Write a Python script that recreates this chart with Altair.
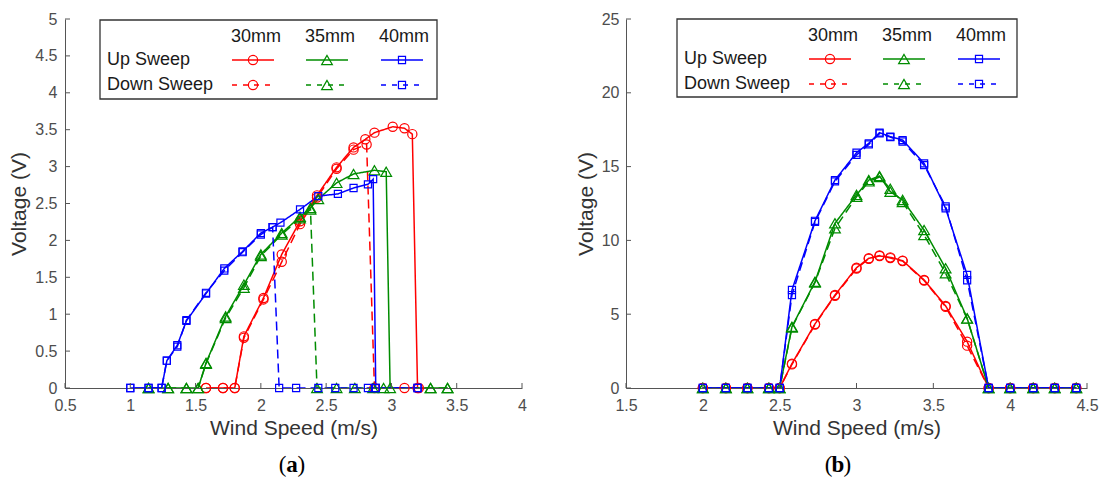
import altair as alt
import pandas as pd

SIZES = ["30mm", "35mm", "40mm"]
COLORS = ["#ff0000", "#008c00", "#0000ff"]
SHAPES = ["circle", "triangle-up", "square"]
SWEEPS = ["Up Sweep", "Down Sweep"]

# ---------------- panel (a) ----------------
a_30_up_x = [1.58, 1.71, 1.80, 1.87, 2.02, 2.16, 2.30, 2.43, 2.58, 2.71, 2.80, 2.87, 3.01, 3.10, 3.16, 3.20]
a_30_up_y = [0, 0, 0, 0.70, 1.22, 1.81, 2.26, 2.61, 2.99, 3.26, 3.37, 3.46, 3.54, 3.52, 3.44, 0]
a_30_dn_x = [3.21, 3.10, 2.87, 2.81, 2.71, 2.58, 2.43, 2.30, 2.16, 2.02, 1.87, 1.80, 1.71, 1.58]
a_30_dn_y = [0, 0, 0, 3.30, 3.23, 2.97, 2.58, 2.22, 1.71, 1.20, 0.68, 0, 0, 0]

a_35_up_x = [1.14, 1.29, 1.43, 1.52, 1.58, 1.73, 1.87, 2.00, 2.16, 2.30, 2.38, 2.44, 2.58, 2.71, 2.87, 2.96, 2.99, 3.30, 3.43]
a_35_up_y = [0, 0, 0, 0, 0.34, 0.97, 1.40, 1.81, 2.10, 2.32, 2.44, 2.56, 2.78, 2.90, 2.95, 2.93, 0, 0, 0]
a_35_dn_x = [3.43, 3.30, 2.94, 2.86, 2.72, 2.58, 2.43, 2.38, 2.30, 2.16, 2.00, 1.87, 1.73, 1.58, 1.52, 1.43, 1.29, 1.14]
a_35_dn_y = [0, 0, 0, 0, 0, 0, 0, 2.42, 2.30, 2.08, 1.79, 1.36, 0.95, 0.33, 0, 0, 0, 0]

a_40_up_x = [1.00, 1.14, 1.24, 1.28, 1.36, 1.43, 1.58, 1.72, 1.86, 2.00, 2.09, 2.15, 2.30, 2.44, 2.59, 2.71, 2.82, 2.86, 2.88, 3.20]
a_40_up_y = [0, 0, 0, 0.37, 0.58, 0.91, 1.28, 1.62, 1.85, 2.10, 2.18, 2.24, 2.42, 2.60, 2.63, 2.71, 2.76, 2.83, 0, 0]
a_40_dn_x = [3.20, 2.88, 2.82, 2.71, 2.57, 2.44, 2.27, 2.14, 2.09, 2.00, 1.86, 1.72, 1.58, 1.43, 1.36, 1.28, 1.24, 1.14, 1.00]
a_40_dn_y = [0, 0, 0, 0, 0, 0, 0, 0, 2.18, 2.08, 1.84, 1.59, 1.29, 0.92, 0.56, 0.37, 0, 0, 0]

a_xticks = [0.5, 1, 1.5, 2, 2.5, 3, 3.5, 4]
a_yticks = [0, 0.5, 1, 1.5, 2, 2.5, 3, 3.5, 4, 4.5, 5]

# ---------------- panel (b) ----------------
b_x = [2.00, 2.15, 2.29, 2.43, 2.50, 2.58, 2.73, 2.86, 3.00, 3.08, 3.15, 3.22, 3.30, 3.44, 3.58, 3.72,
       3.86, 4.00, 4.15, 4.29, 4.43]
b_30_up_y = [0, 0, 0, 0, 0, 1.65, 4.34, 6.30, 8.15, 8.79, 8.94, 8.85, 8.63, 7.32, 5.56, 3.14, 0, 0, 0, 0, 0]
b_30_dn_y = [0, 0, 0, 0, 0, 1.60, 4.30, 6.25, 8.10, 8.75, 8.98, 8.80, 8.60, 7.28, 5.50, 2.87, 0, 0, 0, 0, 0]
b_35_up_y = [0, 0, 0, 0, 0, 4.15, 7.20, 11.16, 13.08, 14.09, 14.36, 13.30, 12.74, 10.70, 8.11, 4.72, 0, 0, 0, 0, 0]
b_35_dn_y = [0, 0, 0, 0, 0, 4.10, 7.15, 10.82, 12.95, 14.00, 14.30, 13.50, 12.60, 10.37, 7.77, 4.70, 0, 0, 0, 0, 0]
b_40_up_y = [0, 0, 0, 0, 0, 6.64, 11.33, 14.09, 15.94, 16.58, 17.30, 17.03, 16.80, 15.22, 12.17, 7.66, 0, 0, 0, 0, 0]
b_40_dn_y = [0, 0, 0, 0, 0, 6.30, 11.25, 14.00, 15.79, 16.50, 17.25, 17.00, 16.70, 15.10, 12.30, 7.30, 0, 0, 0, 0, 0]

b_xticks = [1.5, 2, 2.5, 3, 3.5, 4, 4.5]
b_yticks = [0, 5, 10, 15, 20, 25]


def frame(series):
    rows = []
    for size, sweep, xs, ys in series:
        for i, (x, y) in enumerate(zip(xs, ys)):
            rows.append(dict(size=size, sweep=sweep, key=size + sweep, i=i, ws=x, v=y))
    return pd.DataFrame(rows)


df_a = frame([
    ("30mm", "Up Sweep", a_30_up_x, a_30_up_y),
    ("30mm", "Down Sweep", a_30_dn_x, a_30_dn_y),
    ("35mm", "Up Sweep", a_35_up_x, a_35_up_y),
    ("35mm", "Down Sweep", a_35_dn_x, a_35_dn_y),
    ("40mm", "Up Sweep", a_40_up_x, a_40_up_y),
    ("40mm", "Down Sweep", a_40_dn_x, a_40_dn_y),
])
df_b = frame([
    ("30mm", "Up Sweep", b_x, b_30_up_y),
    ("30mm", "Down Sweep", b_x, b_30_dn_y),
    ("35mm", "Up Sweep", b_x, b_35_up_y),
    ("35mm", "Down Sweep", b_x, b_35_dn_y),
    ("40mm", "Up Sweep", b_x, b_40_up_y),
    ("40mm", "Down Sweep", b_x, b_40_dn_y),
])

LABEL_FONT = "Liberation Sans Narrow, Arial Narrow, Liberation Sans, sans-serif"
TEXT_FONT = "Liberation Sans, Arial, sans-serif"
AXIS_GRAY = "#555555"
MARKER_SIZE = {"30mm": 85, "35mm": 115, "40mm": 50}

color_enc = alt.Color("size:N", scale=alt.Scale(domain=SIZES, range=COLORS), legend=None)
dash_enc = alt.StrokeDash("sweep:N", scale=alt.Scale(domain=SWEEPS, range=[[1, 0], [9, 5]]), legend=None)


def marker_layers(data, x, y):
    out = []
    for s, shp in zip(SIZES, SHAPES):
        out.append(alt.Chart(data).transform_filter(alt.datum.size == s).mark_point(
            filled=False, strokeWidth=1.2, opacity=1, shape=shp, size=MARKER_SIZE[s]
        ).encode(x=x, y=y, color=color_enc))
    return out


def panel(df, xdom, xticks, ydom, yticks, W, H, box, caption_letter, caption_x, ylabpad):
    xaxis = alt.Axis(values=xticks, title="Wind Speed (m/s)", labelExpr="'' + datum.value",
                     labelPadding=9, titlePadding=4, labelFlush=False)
    yaxis = alt.Axis(values=yticks, title="Voltage (V)", labelExpr="'' + datum.value",
                     labelPadding=ylabpad, titlePadding=5, labelFlush=False)
    X = alt.X("ws:Q", scale=alt.Scale(domain=xdom, nice=False, zero=False), axis=xaxis)
    Y = alt.Y("v:Q", scale=alt.Scale(domain=ydom, nice=False), axis=yaxis)

    lines = alt.Chart(df).mark_line(strokeWidth=1.5, clip=True).encode(
        x=X, y=Y, color=color_enc, strokeDash=dash_enc, detail="key:N", order="i:Q")
    pts = marker_layers(df, X, Y)

    xt = alt.Chart(pd.DataFrame({"ws": xticks})).mark_rule(color=AXIS_GRAY, strokeWidth=1).encode(
        x=X, y=alt.value(H), y2=alt.value(H - 5))
    yt = alt.Chart(pd.DataFrame({"v": yticks})).mark_rule(color=AXIS_GRAY, strokeWidth=1).encode(
        y=Y, x=alt.value(0), x2=alt.value(5))

    bx, by, bw, bh = box
    one = pd.DataFrame({"a": [0]})
    frame_box = alt.Chart(one).mark_rect(fill="white", stroke="#333333", strokeWidth=1.3).encode(
        x=alt.value(bx), x2=alt.value(bx + bw), y=alt.value(by), y2=alt.value(by + bh))

    col_c = [156, 230, 304]
    seg = [(132, 174), (206, 248), (281, 323)]
    head_df = pd.DataFrame({"label": SIZES, "px": [bx + c for c in col_c], "py": [by + 17] * 3})
    heads = alt.Chart(head_df).mark_text(font=TEXT_FONT, fontSize=18, color="#1a1a1a",
                                         align="center", baseline="middle").encode(
        x=alt.X("px:Q", scale=None, axis=None), y=alt.Y("py:Q", scale=None, axis=None), text="label:N")
    row_df = pd.DataFrame({"label": SWEEPS, "px": [bx + 7] * 2, "py": [by + 40, by + 65]})
    rows = alt.Chart(row_df).mark_text(font=TEXT_FONT, fontSize=18, color="#1a1a1a",
                                       align="left", baseline="middle").encode(
        x=alt.X("px:Q", scale=None, axis=None), y=alt.Y("py:Q", scale=None, axis=None), text="label:N")

    leg_rows = []
    for k, s in enumerate(SIZES):
        for j, sw in enumerate(SWEEPS):
            leg_rows.append(dict(size=s, sweep=sw, x1=bx + seg[k][0], x2=bx + seg[k][1],
                                 mx=bx + (seg[k][0] + seg[k][1]) / 2, py=by + (40 if j == 0 else 65)))
    leg = pd.DataFrame(leg_rows)
    rule_up = alt.Chart(leg[leg.sweep == "Up Sweep"]).mark_rule(strokeWidth=1.5).encode(
        x=alt.X("x1:Q", scale=None, axis=None), x2="x2:Q",
        y=alt.Y("py:Q", scale=None, axis=None), color=color_enc)
    rule_dn = alt.Chart(leg[leg.sweep == "Down Sweep"]).mark_rule(strokeWidth=1.5, strokeDash=[5, 6]).encode(
        x=alt.X("x1:Q", scale=None, axis=None), x2="x2:Q",
        y=alt.Y("py:Q", scale=None, axis=None), color=color_enc)
    leg_pts = marker_layers(leg, alt.X("mx:Q", scale=None, axis=None), alt.Y("py:Q", scale=None, axis=None))

    cap_y = 446
    cap_font = "Liberation Serif, Times New Roman, serif"
    c1 = alt.Chart(one).mark_text(font=cap_font, fontSize=23, align="right", baseline="middle",
                                  color="black").encode(
        x=alt.value(caption_x - 5.5), y=alt.value(cap_y), text=alt.value("("))
    c2 = alt.Chart(one).mark_text(font=cap_font, fontSize=23, fontWeight="bold", align="center",
                                  baseline="middle", color="black").encode(
        x=alt.value(caption_x), y=alt.value(cap_y), text=alt.value(caption_letter))
    c3 = alt.Chart(one).mark_text(font=cap_font, fontSize=23, align="left", baseline="middle",
                                  color="black").encode(
        x=alt.value(caption_x + 5.5), y=alt.value(cap_y), text=alt.value(")"))

    return alt.layer(lines, *pts, xt, yt, frame_box, heads, rows, rule_up, rule_dn, *leg_pts,
                     c1, c2, c3).properties(width=W, height=H)


left = panel(df_a, [0.5, 4], a_xticks, [0, 5], a_yticks, 457, 369, (35, 1, 337, 79), "a", 227, 8)
right = panel(df_b, [1.5, 4.5], b_xticks, [0, 25], b_yticks, 461, 369, (51, 0, 340, 78), "b", 212, 7)

chart = alt.hconcat(left, right, spacing=48).properties(
    padding={"left": 8, "top": 11, "right": 0, "bottom": 0}
).configure_view(stroke=None).configure_axis(
    domainColor=AXIS_GRAY, domainWidth=1, ticks=False, grid=False,
    labelFont=LABEL_FONT, labelFontSize=16, labelColor="#4d4d4d",
    titleFont=TEXT_FONT, titleFontSize=21, titleFontWeight="normal", titleColor="#333333"
)

chart.save("out.html", embed_options={"renderer": "svg", "actions": False})
